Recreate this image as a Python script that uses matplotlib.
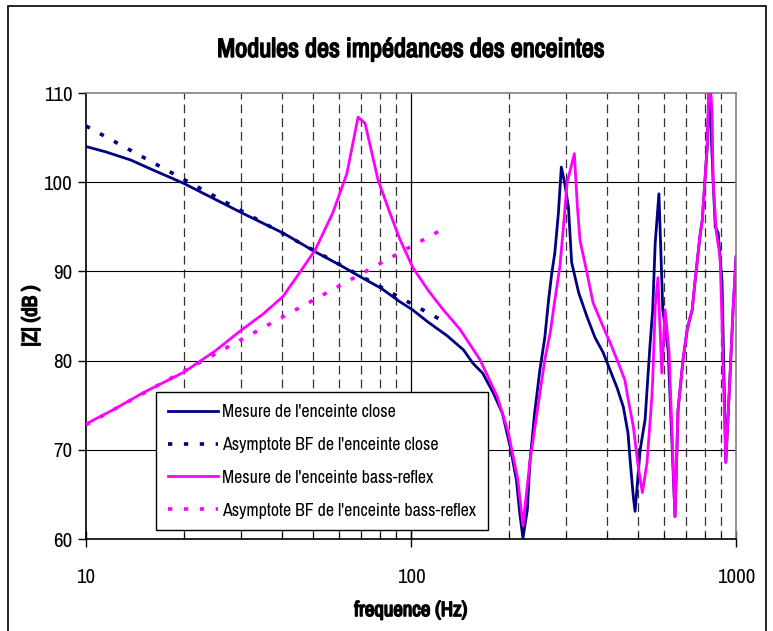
import numpy as np
import matplotlib
matplotlib.use('Agg')
import matplotlib.pyplot as plt
import matplotlib.patheffects as pe
from matplotlib.patches import Rectangle
from matplotlib.ticker import FixedLocator, NullFormatter

plt.rcParams['font.family'] = ['Archivo Narrow', 'Liberation Sans', 'DejaVu Sans']

# measured impedance, closed box
close_f = [10, 11.5, 13.7, 16, 19.9, 30.4, 40.4, 50.7, 60.5, 70.6, 81, 92.4, 101, 113, 129, 145,
           155, 166, 179, 191, 202, 211, 216, 221, 228, 232, 240, 249, 258, 265, 271, 277, 284,
           290, 297, 305, 312, 328, 348, 368, 390, 410, 430, 450, 465, 472, 483, 489, 507, 525,
           543, 554, 564, 579, 591, 595, 618, 649, 663, 687, 707, 733, 745, 774, 787, 815, 827,
           850, 863, 881, 905, 930, 958, 979, 1000]
close_db = [104.0, 103.4, 102.5, 101.4, 99.9, 96.5, 94.3, 92.2, 90.7, 89.3, 88.1, 86.6, 85.7,
            84.3, 82.8, 81.2, 79.7, 78.6, 76.4, 74.1, 70.3, 66.6, 62.9, 60.1, 63.3, 68.5, 74.1,
            78.9, 82.6, 86.8, 89.8, 92.1, 96.5, 101.7, 99.9, 97.2, 91.0, 87.6, 84.9, 82.6, 80.9,
            78.9, 77.0, 74.8, 71.9, 68.9, 64.7, 63.1, 70.0, 73.4, 81.5, 85.7, 93.2, 98.7, 89.0,
            85.7, 81.2, 62.5, 74.5, 80.1, 83.4, 85.7, 88.3, 93.9, 95.7, 103.9, 111.0, 100.2,
            95.0, 94.3, 89.0, 68.6, 78.2, 85.7, 91.6]

# measured impedance, bass-reflex box
bass_f = [10, 12, 15, 20, 25, 30, 35, 40.4, 45.5, 50.7, 57.5, 63.5, 68.7, 72.2, 79.1, 86, 92.4,
          101.4, 112.8, 125, 141.5, 163, 184, 199, 213, 221, 232, 244, 258, 268, 277, 287, 295,
          302, 318, 325, 331, 348, 363, 390, 410, 440, 455, 465, 483, 500, 515, 532, 550, 554,
          564, 575, 591, 605, 622, 649, 663, 687, 707, 718, 733, 745, 774, 787, 815, 827, 844,
          850, 868, 893, 905, 911, 930, 958, 979, 1000]
bass_db = [72.9, 74.4, 76.4, 78.7, 81.1, 83.4, 85.2, 87.2, 89.9, 92.4, 96.6, 101.0, 107.3, 106.6,
           100.3, 96.6, 93.6, 90.4, 87.9, 85.8, 83.5, 80.1, 76.0, 72.0, 66.7, 61.5, 68.6, 74.1,
           80.1, 83.1, 86.8, 90.5, 95.4, 99.9, 103.2, 97.2, 93.5, 89.8, 86.5, 83.8, 82.0, 79.2,
           77.8, 75.8, 72.6, 68.1, 65.2, 68.5, 75.6, 77.8, 86.1, 89.3, 78.6, 85.7, 81.0, 62.5,
           74.5, 80.1, 83.4, 84.6, 85.7, 88.3, 93.9, 95.7, 103.9, 112.5, 107.8, 100.2, 94.6,
           91.6, 84.6, 80.1, 68.6, 78.2, 85.7, 91.6]

# low-frequency asymptotes
asym_f = [10, 129]
asym_close_db = [106.3, 84.2]
asym_bass_db = [72.8, 95.0]

navy = '#000080'
magenta = '#ff00ff'
bold_fx = [pe.withStroke(linewidth=1.1, foreground='black')]

fig = plt.figure(figsize=(7.73, 6.31), dpi=100)
ax = fig.add_axes([0.1113, 0.1458, 0.8409, 0.7068])

# grid
for f in list(range(20, 100, 10)) + list(range(200, 1000, 100)):
    ax.axvline(f, color='#333333', lw=0.9, ls=(0, (7, 4)), zorder=1)
ax.axvline(100, color='black', lw=0.9, zorder=1)
for y in [70, 80, 90, 100]:
    ax.axhline(y, color='black', lw=0.8, zorder=1)

ax.plot(close_f, close_db, color=navy, lw=2.0, label="Mesure de l'enceinte close", zorder=3)
ax.plot(asym_f, asym_close_db, color=navy, lw=2.6, ls=(0, (1.2, 3.2)),
        label="Asymptote BF de l'enceinte close", zorder=3)
ax.plot(bass_f, bass_db, color=magenta, lw=2.0, label="Mesure de l'enceinte bass-reflex", zorder=4)
ax.plot(asym_f, asym_bass_db, color=magenta, lw=2.6, ls=(0, (1.2, 3.2)),
        label="Asymptote BF de l'enceinte bass-reflex", zorder=4)

ax.set_xscale('log')
ax.set_xlim(10, 1000)
ax.set_ylim(60, 110)
ax.set_yticks(range(60, 111, 10))
ax.xaxis.set_major_locator(FixedLocator([10, 100, 1000]))
ax.set_xticklabels(['10', '100', '1000'])
ax.xaxis.set_minor_formatter(NullFormatter())
ax.tick_params(axis='x', which='major', direction='inout', length=12, width=1, labelsize=15, pad=15)
ax.tick_params(axis='x', which='minor', direction='in', length=4, width=0.8)
ax.tick_params(axis='y', which='major', direction='out', length=6, width=1, labelsize=15, pad=4)

for s in ['top', 'right']:
    ax.spines[s].set_color('#808080')
    ax.spines[s].set_linewidth(1.2)
for s in ['left', 'bottom']:
    ax.spines[s].set_linewidth(1.2)

t = ax.set_title('Modules des impédances des enceintes', fontsize=19, pad=26)
t.set_path_effects(bold_fx)
xl = ax.set_xlabel('frequence (Hz)', fontsize=15, labelpad=10)
xl.set_path_effects(bold_fx)
yl = ax.set_ylabel('|Z| (dB )', fontsize=15, labelpad=2)
yl.set_path_effects(bold_fx)

leg = ax.legend(loc='lower left', bbox_to_anchor=(0.108, 0.02), borderaxespad=0, fontsize=12.8,
                frameon=True, fancybox=False, edgecolor='black', framealpha=1, handlelength=2.8,
                borderpad=0.65, labelspacing=0.95, handletextpad=0.25)
leg.get_frame().set_linewidth(1.0)

# outer frame
fig.patches.append(Rectangle((8 / 773, -0.05), 758 / 773, 1.04, transform=fig.transFigure,
                             fill=False, edgecolor='black', lw=1.2))

plt.savefig('out.png', dpi=100)
